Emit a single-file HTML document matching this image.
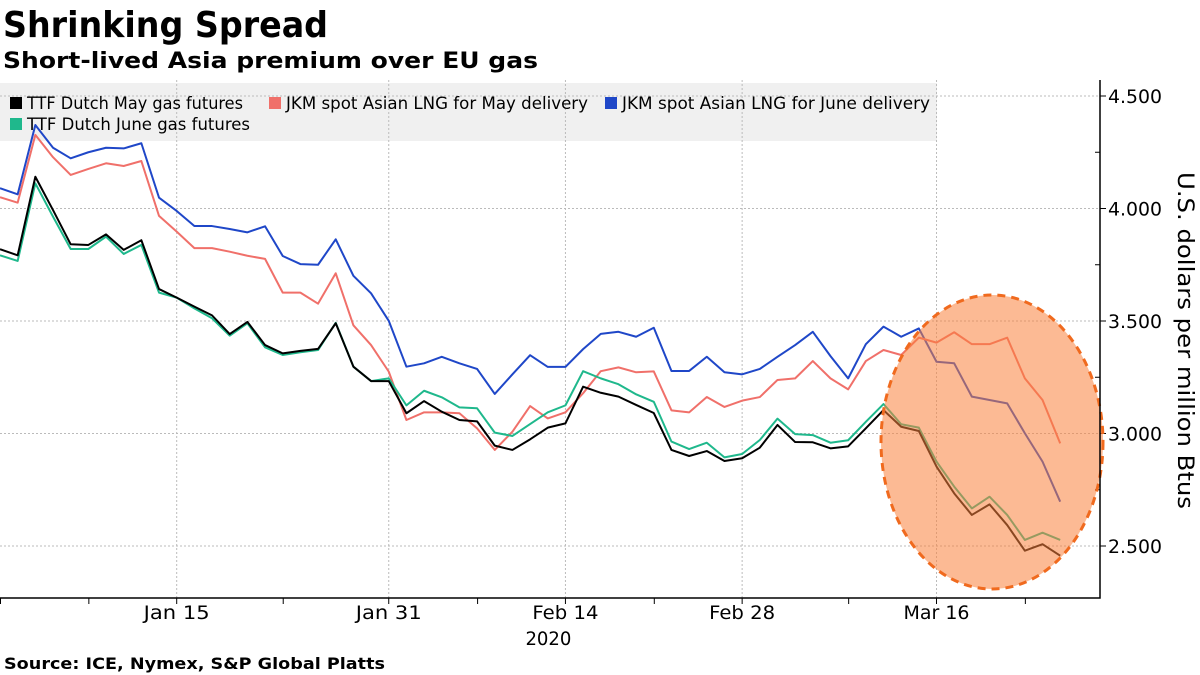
<!DOCTYPE html>
<html><head><meta charset="utf-8"><style>
html,body{margin:0;padding:0;background:#fff;}
body{width:1200px;height:675px;overflow:hidden;position:relative;font-family:"DejaVu Sans","Liberation Sans",sans-serif;}
</style></head><body>
<svg id="chart" width="1200" height="675" style="position:absolute;left:0;top:0"></svg>
<script>
const blue=[4.090,4.063,4.371,4.270,4.223,4.250,4.270,4.267,4.290,4.048,3.989,3.922,3.922,3.909,3.894,3.921,3.789,3.753,3.750,3.863,3.701,3.623,3.501,3.297,3.312,3.341,3.312,3.287,3.176,3.263,3.348,3.296,3.296,3.375,3.443,3.452,3.430,3.470,3.278,3.278,3.341,3.272,3.263,3.287,3.341,3.393,3.452,3.344,3.245,3.397,3.475,3.430,3.467,3.319,3.312,3.164,3.149,3.134,3.001,2.875,2.697];
const red=[4.050,4.026,4.327,4.228,4.149,4.176,4.201,4.189,4.211,3.967,3.897,3.824,3.824,3.808,3.790,3.776,3.626,3.626,3.577,3.712,3.481,3.393,3.275,3.060,3.094,3.094,3.090,3.023,2.927,3.008,3.122,3.067,3.094,3.179,3.277,3.294,3.272,3.276,3.103,3.094,3.162,3.118,3.146,3.162,3.238,3.245,3.322,3.245,3.196,3.322,3.371,3.349,3.426,3.404,3.450,3.397,3.397,3.426,3.245,3.149,2.956];
const black=[3.819,3.792,4.141,3.993,3.841,3.838,3.885,3.816,3.859,3.642,3.604,3.564,3.525,3.442,3.496,3.393,3.356,3.367,3.376,3.490,3.297,3.233,3.233,3.090,3.144,3.097,3.060,3.054,2.946,2.927,2.974,3.026,3.045,3.208,3.181,3.164,3.127,3.091,2.927,2.900,2.922,2.878,2.890,2.937,3.038,2.962,2.961,2.934,2.943,3.023,3.104,3.030,3.011,2.853,2.734,2.638,2.685,2.593,2.479,2.508,2.457];
const green=[3.792,3.767,4.112,3.964,3.820,3.820,3.875,3.798,3.838,3.626,3.604,3.556,3.512,3.435,3.490,3.383,3.349,3.361,3.371,3.492,3.297,3.233,3.245,3.125,3.190,3.161,3.116,3.112,3.004,2.989,3.042,3.094,3.125,3.277,3.245,3.219,3.174,3.141,2.964,2.931,2.959,2.894,2.909,2.971,3.066,2.997,2.993,2.959,2.970,3.052,3.131,3.041,3.026,2.875,2.764,2.667,2.719,2.638,2.527,2.559,2.527];
const yTicks=[2.5,3.0,3.5,4.0,4.5];
const yTickLabels=["2.500","3.000","3.500","4.000","4.500"];
const yMinor=[2.75,3.25,3.75,4.25];
const xTickIdx=[10,22,32,42,53];
const xTickLabels=["Jan 15","Jan 31","Feb 14","Feb 28","Mar 16"];
const xMinorIdx=[0,5,16,27,37,48,58];

const NS="http://www.w3.org/2000/svg";
const svg=document.getElementById('chart');
const X=i=>i*17.67;
const Y=v=>96+(4.5-v)*225;
const FF='DejaVu Sans, Liberation Sans, sans-serif';
function mk(tag,attrs,parent){const e=document.createElementNS(NS,tag);for(const k in attrs)e.setAttribute(k,attrs[k]);(parent||svg).appendChild(e);return e;}
function txt(s,attrs,parent){const t=mk('text',Object.assign({'font-family':FF,fill:'#000',lengthAdjust:'spacingAndGlyphs'},attrs),parent);t.textContent=s;return t;}

const ti=txt('Shrinking Spread',{x:3,y:37,'font-size':36,'font-weight':'bold',textLength:325});


const st=txt('Short-lived Asia premium over EU gas',{x:3,y:68,'font-size':22,'font-weight':'bold',textLength:535});


const so=txt('Source: ICE, Nymex, S&P Global Platts',{x:4,y:669,'font-size':16,'font-weight':'bold',textLength:381});



const leg=mk('rect',{x:0,y:83,width:937,height:58,fill:'#f0f0f0'});



yTicks.forEach((v,k)=>{
  const g=mk('line',{x1:0,x2:1100,y1:Y(v),y2:Y(v),stroke:'#bbb','stroke-dasharray':'2,2'});
  
  
  const tk=mk('line',{x1:1100,x2:1106,y1:Y(v),y2:Y(v),stroke:'#000'});
  
  
  const t=txt(yTickLabels[k],{x:1108,y:Y(v)+7,'font-size':19,textLength:54});
  
  
});
yMinor.forEach(v=>{
  const tk=mk('line',{x1:1095,x2:1100,y1:Y(v),y2:Y(v),stroke:'#000'});
  
  
});
xTickIdx.forEach((i,k)=>{
  const g=mk('line',{x1:X(i),x2:X(i),y1:80,y2:598,stroke:'#bbb','stroke-dasharray':'2,2'});
  
  
  const tk=mk('line',{x1:X(i),x2:X(i),y1:598,y2:604,stroke:'#000'});
  
  
  const t=txt(xTickLabels[k],{x:X(i)-33,y:619,'font-size':19,textLength:66});
  
  
});
xMinorIdx.forEach(i=>{
  const tk=mk('line',{x1:X(i)+0.5,x2:X(i)+0.5,y1:598,y2:604,stroke:'#000'});
  
  
});
const yr=txt('2020',{x:X(32)-40,y:645,'font-size':19,textLength:46});



const series=[[blue,'#1f47c8','jkm-june-line'],[red,'#f0706a','jkm-may-line'],[green,'#1fb88c','ttf-june-line'],[black,'#000','ttf-may-line']];
series.forEach(([d,c,n])=>{
  const p=mk('polyline',{points:d.map((v,i)=>X(i)+','+Y(v)).join(' '),fill:'none',stroke:c,'stroke-width':2,'stroke-linejoin':'round'});
  
  
});

const el=mk('ellipse',{cx:992,cy:442,rx:111,ry:147,fill:'rgba(250,130,60,0.55)',stroke:'#f06a1e','stroke-width':3,'stroke-dasharray':'8,6'});



const ax=mk('path',{d:'M0 598 H1100 V80',fill:'none',stroke:'#000','stroke-width':1.5});



const yt=txt('U.S. dollars per million Btus',{transform:'translate(1178,172) rotate(90)','font-size':22,textLength:337});



const legItems=[[10,103,'#000','TTF Dutch May gas futures',216],[269,103,'#f0706a','JKM spot Asian LNG for May delivery',302],[605,103,'#1f47c8','JKM spot Asian LNG for June delivery',308],[10,124,'#1fb88c','TTF Dutch June gas futures',223]];
legItems.forEach(([x,y,c,l,w])=>{
  const g=mk('g',{});
  
  
  mk('rect',{x:x,y:y-6,width:12,height:12,fill:c},g);
  txt(l,{x:x+17,y:y+6,'font-size':17,textLength:w},g);
});
</script>
</body></html>
